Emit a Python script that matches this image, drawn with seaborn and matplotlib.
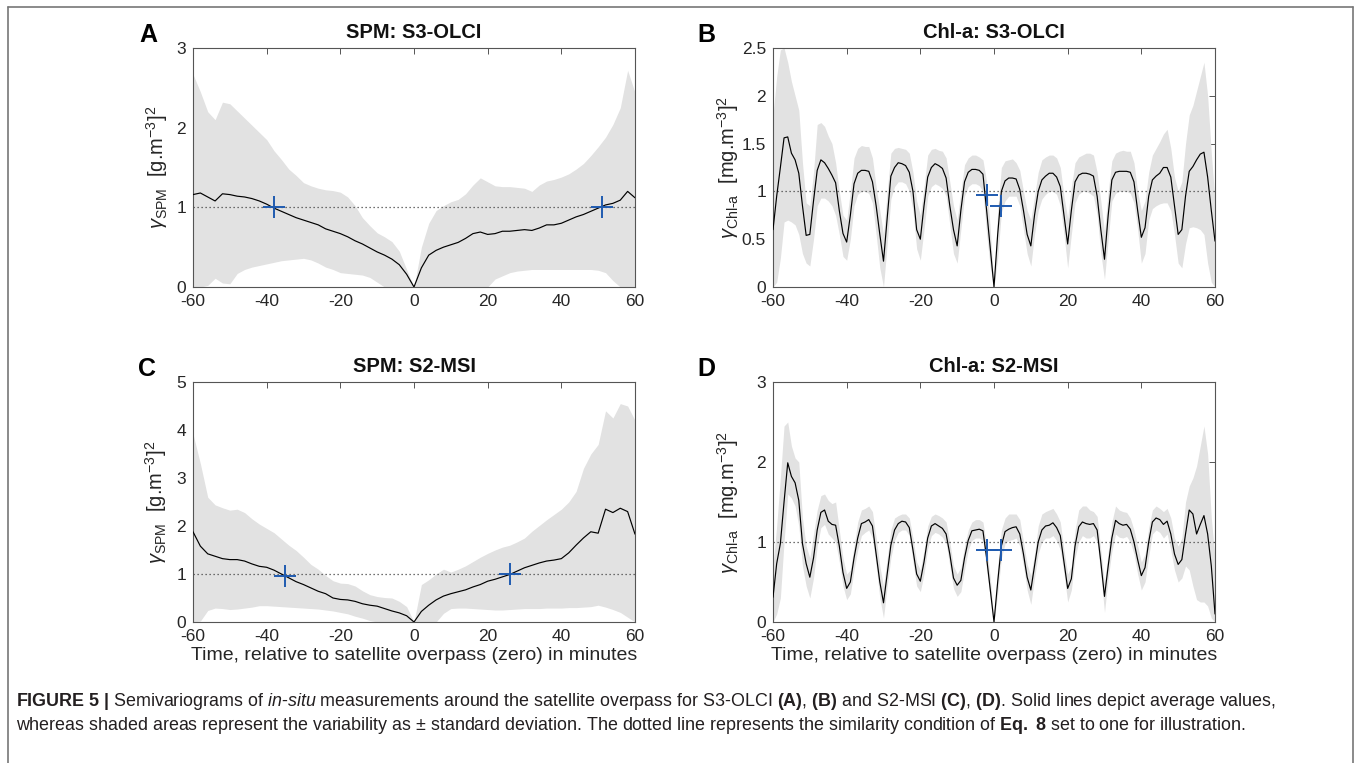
import numpy as np
import pandas as pd
import matplotlib
matplotlib.use('Agg')
import matplotlib.pyplot as plt
from matplotlib.ticker import FixedLocator, FixedFormatter
import seaborn as sns

# ---- data ----
minutes_chl = np.arange(-60, 61)        # Chl-a panels: 1-minute steps
minutes_spm = np.arange(-60, 61, 2)     # SPM panels: 2-minute steps

# (A) SPM: S3-OLCI
spm_olci_mean = [1.16, 1.18, 1.13, 1.08, 1.17, 1.16, 1.14, 1.13, 1.11, 1.08,
                 1.04, 0.99, 0.95, 0.91, 0.87, 0.84, 0.81, 0.78, 0.73, 0.70,
                 0.67, 0.63, 0.58, 0.54, 0.49, 0.44, 0.40, 0.35, 0.28, 0.16,
                 0.00, 0.24, 0.40, 0.46, 0.50, 0.53, 0.56, 0.61, 0.67, 0.69,
                 0.66, 0.67, 0.70, 0.70, 0.71, 0.72, 0.71, 0.74, 0.78, 0.78,
                 0.80, 0.84, 0.88, 0.91, 0.95, 0.99, 1.03, 1.05, 1.09, 1.20,
                 1.12]
spm_olci_hi = [2.67, 2.45, 2.20, 2.10, 2.32, 2.30, 2.21, 2.12, 2.03, 1.94,
               1.85, 1.71, 1.60, 1.48, 1.40, 1.31, 1.27, 1.24, 1.22, 1.21,
               1.19, 1.13, 1.02, 0.87, 0.77, 0.68, 0.63, 0.57, 0.45, 0.22,
               0.00, 0.50, 0.80, 0.96, 1.02, 1.07, 1.10, 1.17, 1.28, 1.37,
               1.32, 1.27, 1.26, 1.26, 1.25, 1.24, 1.20, 1.28, 1.33, 1.35,
               1.38, 1.42, 1.48, 1.55, 1.65, 1.76, 1.88, 2.04, 2.25, 2.72,
               2.44]
spm_olci_lo = [0.00, 0.00, 0.02, 0.11, 0.05, 0.04, 0.17, 0.22, 0.25, 0.27,
               0.29, 0.31, 0.33, 0.34, 0.35, 0.36, 0.34, 0.30, 0.25, 0.22,
               0.18, 0.17, 0.16, 0.15, 0.12, 0.06, 0.00, 0.00, 0.00, 0.00,
               0.00, 0.00, 0.00, 0.00, 0.00, 0.00, 0.00, 0.00, 0.00, 0.00,
               0.00, 0.10, 0.14, 0.18, 0.20, 0.21, 0.22, 0.22, 0.22, 0.22,
               0.22, 0.22, 0.22, 0.22, 0.22, 0.21, 0.18, 0.08, 0.00, 0.00,
               0.00]
spm_olci_cross_x = [-38, 51]
spm_olci_cross_y = [1.0, 1.0]

# (B) Chl-a: S3-OLCI
chl_olci_mean = [0.60, 0.95, 1.25, 1.56, 1.57, 1.40, 1.33, 1.19, 0.85, 0.54,
                 0.55, 0.90, 1.22, 1.33, 1.30, 1.24, 1.17, 1.09, 0.80, 0.56,
                 0.47, 0.75, 1.08, 1.19, 1.22, 1.22, 1.21, 1.10, 0.85, 0.55,
                 0.27, 0.72, 1.16, 1.25, 1.30, 1.29, 1.27, 1.20, 1.00, 0.60,
                 0.50, 0.85, 1.15, 1.25, 1.29, 1.27, 1.24, 1.14, 0.85, 0.60,
                 0.43, 0.80, 1.10, 1.20, 1.23, 1.23, 1.22, 1.18, 0.80, 0.40,
                 0.00, 0.55, 1.00, 1.11, 1.14, 1.14, 1.13, 1.02, 0.80, 0.55,
                 0.43, 0.75, 1.00, 1.12, 1.16, 1.19, 1.19, 1.15, 1.05, 0.75,
                 0.45, 0.80, 1.10, 1.17, 1.19, 1.19, 1.18, 1.16, 0.95, 0.60,
                 0.29, 0.75, 1.12, 1.20, 1.21, 1.21, 1.21, 1.20, 1.10, 0.80,
                 0.52, 0.62, 0.95, 1.12, 1.16, 1.19, 1.25, 1.25, 1.15, 0.85,
                 0.55, 0.60, 0.95, 1.21, 1.26, 1.33, 1.39, 1.41, 1.15, 0.80,
                 0.48]
chl_olci_hi = [1.80, 2.20, 2.48, 2.50, 2.35, 2.15, 2.00, 1.85, 1.30, 0.88,
               0.85, 1.20, 1.70, 1.72, 1.68, 1.58, 1.50, 1.30, 1.00, 0.75,
               0.70, 1.00, 1.35, 1.45, 1.48, 1.47, 1.47, 1.35, 1.05, 0.80,
               0.55, 1.00, 1.40, 1.45, 1.46, 1.45, 1.44, 1.40, 1.20, 0.90,
               0.75, 1.05, 1.38, 1.44, 1.45, 1.43, 1.42, 1.35, 1.10, 0.85,
               0.70, 1.00, 1.28, 1.35, 1.38, 1.38, 1.36, 1.33, 1.10, 0.60,
               0.00, 0.80, 1.25, 1.32, 1.33, 1.34, 1.30, 1.22, 1.00, 0.80,
               0.70, 0.95, 1.20, 1.33, 1.36, 1.38, 1.38, 1.35, 1.25, 0.95,
               0.72, 1.05, 1.30, 1.36, 1.38, 1.40, 1.40, 1.38, 1.20, 0.90,
               0.58, 1.00, 1.32, 1.40, 1.42, 1.43, 1.42, 1.42, 1.30, 1.00,
               0.80, 0.90, 1.20, 1.38, 1.45, 1.52, 1.60, 1.65, 1.45, 1.15,
               1.00, 1.10, 1.50, 1.80, 1.90, 2.05, 2.20, 2.35, 2.00, 1.40,
               0.90]
chl_olci_lo = [0.00, 0.05, 0.30, 0.68, 0.70, 0.68, 0.65, 0.55, 0.35, 0.25,
               0.22, 0.50, 0.85, 0.93, 0.93, 0.90, 0.85, 0.75, 0.55, 0.32,
               0.28, 0.50, 0.85, 0.97, 1.00, 1.00, 0.98, 0.88, 0.55, 0.20,
               0.00, 0.45, 0.92, 1.05, 1.10, 1.10, 1.08, 1.00, 0.80, 0.40,
               0.28, 0.60, 0.95, 1.05, 1.08, 1.06, 1.03, 0.95, 0.65, 0.35,
               0.25, 0.60, 0.95, 1.05, 1.08, 1.08, 1.06, 1.00, 0.55, 0.20,
               0.00, 0.30, 0.78, 0.90, 0.95, 0.95, 0.95, 0.85, 0.60, 0.35,
               0.22, 0.55, 0.80, 0.92, 0.97, 1.00, 1.00, 0.97, 0.85, 0.55,
               0.20, 0.55, 0.88, 0.97, 1.00, 1.00, 0.98, 0.95, 0.75, 0.35,
               0.08, 0.50, 0.90, 0.98, 1.00, 1.00, 1.00, 0.98, 0.88, 0.60,
               0.25, 0.35, 0.70, 0.82, 0.85, 0.87, 0.88, 0.88, 0.80, 0.55,
               0.25, 0.20, 0.45, 0.62, 0.63, 0.62, 0.60, 0.55, 0.25, 0.05,
               0.00]
chl_olci_cross_x = [-2, 2]
chl_olci_cross_y = [0.96, 0.85]

# (C) SPM: S2-MSI
spm_msi_mean = [1.88, 1.58, 1.42, 1.37, 1.32, 1.30, 1.30, 1.27, 1.21, 1.16,
                1.14, 1.08, 1.00, 0.92, 0.84, 0.78, 0.71, 0.64, 0.59, 0.50,
                0.47, 0.46, 0.43, 0.38, 0.35, 0.33, 0.28, 0.23, 0.19, 0.13,
                0.00, 0.22, 0.35, 0.46, 0.54, 0.59, 0.63, 0.67, 0.73, 0.78,
                0.85, 0.89, 0.94, 0.99, 1.06, 1.13, 1.18, 1.23, 1.27, 1.29,
                1.32, 1.44, 1.60, 1.75, 1.88, 1.85, 2.35, 2.28, 2.37, 2.30,
                1.83]
spm_msi_hi = [3.92, 3.30, 2.60, 2.44, 2.38, 2.33, 2.35, 2.28, 2.15, 2.04,
              1.95, 1.86, 1.73, 1.60, 1.49, 1.35, 1.20, 1.10, 0.97, 0.86,
              0.81, 0.80, 0.75, 0.65, 0.57, 0.53, 0.51, 0.50, 0.43, 0.32,
              0.00, 0.78, 0.88, 1.00, 1.10, 1.04, 1.10, 1.17, 1.26, 1.35,
              1.43, 1.50, 1.56, 1.60, 1.67, 1.75, 1.89, 2.01, 2.13, 2.24,
              2.35, 2.50, 2.72, 3.20, 3.50, 3.70, 4.40, 4.25, 4.55, 4.50,
              4.20]
spm_msi_lo = [0.00, 0.02, 0.24, 0.29, 0.28, 0.26, 0.27, 0.29, 0.31, 0.34,
              0.34, 0.33, 0.32, 0.31, 0.30, 0.29, 0.28, 0.27, 0.25, 0.23,
              0.20, 0.17, 0.12, 0.08, 0.03, 0.00, 0.00, 0.00, 0.00, 0.00,
              0.00, 0.00, 0.00, 0.00, 0.18, 0.28, 0.29, 0.29, 0.28, 0.27,
              0.26, 0.25, 0.25, 0.26, 0.27, 0.28, 0.28, 0.28, 0.29, 0.29,
              0.29, 0.30, 0.30, 0.31, 0.32, 0.35, 0.31, 0.26, 0.20, 0.10,
              0.00]
spm_msi_cross_x = [-35, 26]
spm_msi_cross_y = [0.96, 1.0]

# (D) Chl-a: S2-MSI
chl_msi_mean = [0.31, 0.73, 0.98, 1.50, 1.99, 1.82, 1.74, 1.52, 0.98, 0.73,
                0.56, 0.80, 1.15, 1.37, 1.40, 1.26, 1.22, 1.21, 0.95, 0.62,
                0.42, 0.50, 0.80, 1.05, 1.23, 1.25, 1.28, 1.20, 0.85, 0.50,
                0.24, 0.60, 0.96, 1.15, 1.23, 1.26, 1.25, 1.18, 0.90, 0.60,
                0.51, 0.75, 1.05, 1.20, 1.23, 1.20, 1.17, 1.10, 0.85, 0.55,
                0.46, 0.52, 0.80, 1.02, 1.14, 1.15, 1.16, 1.14, 0.80, 0.40,
                0.00, 0.50, 0.95, 1.13, 1.16, 1.18, 1.19, 1.10, 0.85, 0.56,
                0.40, 0.70, 1.00, 1.15, 1.20, 1.21, 1.24, 1.18, 1.08, 0.75,
                0.42, 0.54, 0.95, 1.19, 1.25, 1.23, 1.22, 1.23, 1.15, 0.75,
                0.32, 0.70, 1.05, 1.27, 1.23, 1.21, 1.22, 1.16, 1.00, 0.78,
                0.58, 0.68, 1.00, 1.25, 1.30, 1.28, 1.22, 1.26, 1.10, 0.85,
                0.72, 0.78, 1.10, 1.40, 1.35, 1.10, 1.22, 1.33, 1.10, 0.70,
                0.10]
chl_msi_hi = [0.70, 1.20, 1.80, 2.45, 2.50, 2.20, 2.05, 2.00, 1.30, 0.95,
              0.80, 1.10, 1.40, 1.58, 1.60, 1.52, 1.48, 1.50, 1.15, 0.80,
              0.60, 0.65, 0.95, 1.25, 1.40, 1.42, 1.45, 1.38, 1.05, 0.70,
              0.45, 0.80, 1.15, 1.30, 1.33, 1.35, 1.35, 1.30, 1.05, 0.75,
              0.65, 0.90, 1.20, 1.32, 1.35, 1.33, 1.30, 1.25, 1.00, 0.70,
              0.60, 0.68, 0.95, 1.15, 1.25, 1.28, 1.28, 1.25, 0.95, 0.55,
              0.00, 0.70, 1.15, 1.30, 1.35, 1.35, 1.35, 1.28, 1.00, 0.72,
              0.58, 0.85, 1.20, 1.35, 1.38, 1.40, 1.42, 1.35, 1.25, 0.90,
              0.60, 0.70, 1.15, 1.40, 1.45, 1.45, 1.40, 1.38, 1.32, 0.90,
              0.48, 0.88, 1.25, 1.45, 1.40, 1.38, 1.37, 1.30, 1.15, 0.95,
              0.75, 0.85, 1.18, 1.40, 1.45, 1.42, 1.38, 1.42, 1.30, 1.05,
              0.95, 1.05, 1.50, 1.70, 1.80, 1.95, 2.20, 2.45, 2.10, 1.30,
              0.80]
chl_msi_lo = [0.00, 0.10, 0.30, 1.00, 1.60, 1.55, 1.45, 1.20, 0.70, 0.45,
              0.30, 0.55, 0.95, 1.18, 1.22, 1.10, 1.05, 1.00, 0.75, 0.45,
              0.28, 0.35, 0.65, 0.90, 1.08, 1.12, 1.15, 1.05, 0.70, 0.30,
              0.05, 0.45, 0.80, 1.02, 1.12, 1.15, 1.15, 1.08, 0.75, 0.45,
              0.38, 0.60, 0.92, 1.08, 1.12, 1.10, 1.06, 0.98, 0.70, 0.42,
              0.32, 0.38, 0.65, 0.90, 1.02, 1.05, 1.05, 1.02, 0.65, 0.30,
              0.00, 0.35, 0.80, 0.98, 1.02, 1.03, 1.05, 0.95, 0.70, 0.40,
              0.22, 0.55, 0.85, 1.00, 1.05, 1.05, 1.08, 1.02, 0.90, 0.60,
              0.25, 0.40, 0.80, 1.00, 1.08, 1.05, 1.05, 1.08, 1.00, 0.60,
              0.12, 0.55, 0.88, 1.10, 1.06, 1.05, 1.07, 1.00, 0.85, 0.60,
              0.40, 0.50, 0.82, 1.10, 1.15, 1.12, 1.05, 1.10, 0.90, 0.65,
              0.50, 0.55, 0.70, 0.65, 0.45, 0.28, 0.25, 0.25, 0.20, 0.05,
              0.00]
chl_msi_cross_x = [-2, 2]
chl_msi_cross_y = [0.90, 0.90]

x_ticks = [-60, -40, -20, 0, 20, 40, 60]
y_ticks_a = [0, 1, 2, 3]
y_ticks_b = [0, 0.5, 1, 1.5, 2, 2.5]
y_labels_b = ['0', '0.5', '1', '1.5', '2', '2.5']
y_ticks_c = [0, 1, 2, 3, 4, 5]
y_ticks_d = [0, 1, 2, 3]

titles = ['SPM: S3-OLCI', 'Chl-a: S3-OLCI', 'SPM: S2-MSI', 'Chl-a: S2-MSI']
letters = ['A', 'B', 'C', 'D']
ylabel_spm = r'$\gamma_{\mathrm{SPM}}$  [g.m$^{-3}$]$^2$'
ylabel_chl = r'$\gamma_{\mathrm{Chl\text{-}a}}$  [mg.m$^{-3}$]$^2$'
xlabel = 'Time, relative to satellite overpass (zero) in minutes'
caption_1 = (r'$\mathbf{FIGURE\ 5\ |}$ Semivariograms of $\mathit{in}$-$\mathit{situ}$ measurements around the '
             r'satellite overpass for S3-OLCI $\mathbf{(A)}$, $\mathbf{(B)}$ and S2-MSI $\mathbf{(C)}$, '
             r'$\mathbf{(D)}$. Solid lines depict average values,')
caption_2 = (r'whereas shaded areas represent the variability as ± standard deviation. The dotted line '
             r'represents the similarity condition of $\mathbf{Eq.}$ $\mathbf{8}$ set to one for illustration.')

# ---- style ----
sns.set_style('white')
plt.rcParams['font.family'] = ['Liberation Sans', 'DejaVu Sans']
plt.rcParams['axes.unicode_minus'] = False
plt.rcParams['mathtext.fontset'] = 'custom'
plt.rcParams['mathtext.rm'] = 'Liberation Sans'
plt.rcParams['mathtext.it'] = 'Liberation Sans:italic'
plt.rcParams['mathtext.bf'] = 'Liberation Sans:bold'

W, H = 1354, 763
fig = plt.figure(figsize=(W / 100, H / 100), dpi=100)
fig.patch.set_facecolor('white')

band_color = '#e2e2e2'
cross_color = '#1f5bb0'
axis_color = '#555555'
text_color = '#262626'


def panel(rect, t, mean, lo, hi, yticks, ylabels, ylim, title, letter, ylab,
          cx, cy, ylab_x, letter_x, show_xlabel):
    ax = fig.add_axes(rect)
    ax.fill_between(t, lo, hi, color=band_color, lw=0, zorder=1)
    ax.axhline(1, color='#444444', lw=0.9, ls=(0, (1, 2.2)), zorder=2)
    df = pd.DataFrame({'t': t, 'v': mean})
    sns.lineplot(data=df, x='t', y='v', ax=ax, color='black', lw=0.85,
                 estimator=None, zorder=3)
    ax.plot(cx, cy, ls='none', marker='+', ms=16, mew=1.4, color=cross_color, zorder=4)
    ax.set_xlim(-60, 60)
    ax.set_ylim(*ylim)
    ax.xaxis.set_major_locator(FixedLocator(x_ticks))
    ax.yaxis.set_major_locator(FixedLocator(yticks))
    ax.yaxis.set_major_formatter(FixedFormatter(ylabels))
    ax.tick_params(direction='in', top=True, right=True, length=4, width=0.7,
                   color=axis_color, labelsize=12.5, labelcolor=text_color)
    ax.tick_params(axis='x', pad=5)
    ax.tick_params(axis='y', pad=5)
    for s in ax.spines.values():
        s.set_color(axis_color)
        s.set_linewidth(0.8)
    ax.set_xlabel(xlabel if show_xlabel else '', fontsize=14, color=text_color, va='center')
    ax.xaxis.set_label_coords(0.5, -0.14)
    ax.set_ylabel(ylab, fontsize=14.5, color=text_color, va='center')
    ax.yaxis.set_label_coords(ylab_x, 0.5)
    ax.text(0.5, 1.065, title, transform=ax.transAxes, ha='center', va='center',
            fontsize=14.5, fontweight='bold', color='#111111')
    ax.text(letter_x, 1.055, letter, transform=ax.transAxes, ha='center', va='center',
            fontsize=18, fontweight='bold', color='black')
    return ax


aw = 442 / W
top_b, top_h = (H - 287) / H, 239 / H
bot_b, bot_h = (H - 622) / H, 240 / H
lx_left = 193 / W
lx_right = 773 / W

panel([lx_left, top_b, aw, top_h], minutes_spm, spm_olci_mean, spm_olci_lo, spm_olci_hi,
      y_ticks_a, [str(v) for v in y_ticks_a], (0, 3), titles[0], letters[0], ylabel_spm,
      spm_olci_cross_x, spm_olci_cross_y, -0.082, (148 - 193) / 442, False)
panel([lx_right, top_b, aw, top_h], minutes_chl, chl_olci_mean, chl_olci_lo, chl_olci_hi,
      y_ticks_b, y_labels_b, (0, 2.5), titles[1], letters[1], ylabel_chl,
      chl_olci_cross_x, chl_olci_cross_y, -0.102, (706 - 773) / 442, False)
panel([lx_left, bot_b, aw, bot_h], minutes_spm, spm_msi_mean, spm_msi_lo, spm_msi_hi,
      y_ticks_c, [str(v) for v in y_ticks_c], (0, 5), titles[2], letters[2], ylabel_spm,
      spm_msi_cross_x, spm_msi_cross_y, -0.084, (147 - 193) / 442, True)
panel([lx_right, bot_b, aw, bot_h], minutes_chl, chl_msi_mean, chl_msi_lo, chl_msi_hi,
      y_ticks_d, [str(v) for v in y_ticks_d], (0, 3), titles[3], letters[3], ylabel_chl,
      chl_msi_cross_x, chl_msi_cross_y, -0.102, (706 - 773) / 442, True)

# caption
cap1 = fig.text(16 / W, 1 - 702 / H, caption_1, ha='left', va='center', fontsize=10.6, color='#231f20')
cap2 = fig.text(16 / W, 1 - 726 / H, caption_2, ha='left', va='center', fontsize=10.6, color='#231f20')
fig.canvas.draw()
scale = 1262 / cap1.get_window_extent().width
cap1.set_fontsize(10.6 * scale)
cap2.set_fontsize(10.6 * scale)

# frame around the figure
frame_kw = dict(transform=fig.transFigure, color='#777777', lw=1.2)
fig.add_artist(plt.Line2D([8 / W, 1353 / W], [1 - 7 / H, 1 - 7 / H], **frame_kw))
fig.add_artist(plt.Line2D([8 / W, 8 / W], [0, 1 - 7 / H], **frame_kw))
fig.add_artist(plt.Line2D([1353 / W, 1353 / W], [0, 1 - 7 / H], **frame_kw))

fig.savefig('out.png', dpi=100, facecolor='white')
